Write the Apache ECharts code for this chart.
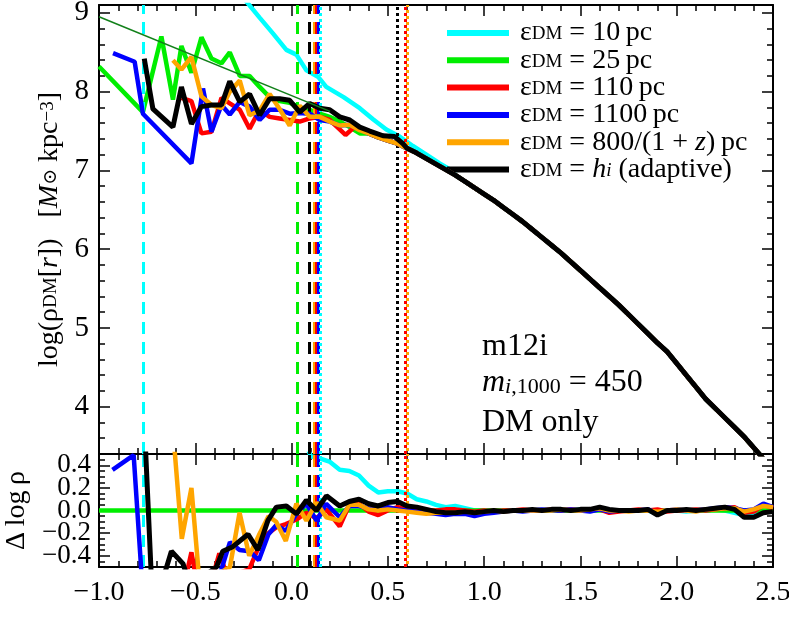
<!DOCTYPE html>
<html>
<head>
<meta charset="UTF-8">
<title>m12i - DM density profile</title>
<script src="https://cdn.jsdelivr.net/npm/echarts@6/dist/echarts.min.js"></script>
<style>
  html, body { margin: 0; padding: 0; background: #fff; }
  #main { width: 789px; height: 635px; }
</style>
</head>
<body>
<div id="main"></div>
<script>
// ---- values (x = log r [kpc]) ----
const seriesKeys = ['10pc', '25pc', '110pc', '1100pc', '800z', 'adaptive'];

// top panel, inner (noisy) part of each profile: [log r, log rho]
const top10pc = [[-0.30, 9.35], [-0.24, 9.16], [-0.166, 8.94], [-0.097, 8.74], [-0.027, 8.53], [0.025, 8.47], [0.077, 8.27],
  [0.137, 8.19], [0.18, 8.06], [0.27, 7.93], [0.354, 7.79], [0.423, 7.65], [0.492, 7.52], [0.561, 7.43], [0.63, 7.31],
  [0.70, 7.20], [0.769, 7.09], [0.838, 6.99]];
const top25pc = [[-1.0, 8.32], [-0.772, 7.74], [-0.676, 8.70], [-0.616, 7.90], [-0.572, 8.58], [-0.52, 8.24], [-0.468, 8.69],
  [-0.416, 8.42], [-0.364, 8.36], [-0.321, 8.50], [-0.269, 8.20], [-0.218, 8.20], [-0.166, 8.06], [-0.114, 7.93],
  [-0.062, 7.88], [-0.01, 7.86], [0.042, 7.80], [0.094, 7.77], [0.146, 7.72], [0.198, 7.68], [0.25, 7.62], [0.302, 7.55], [0.354, 7.47]];
const top110pc = [[-0.572, 7.92], [-0.52, 7.88], [-0.468, 7.47], [-0.416, 7.49], [-0.364, 7.92], [-0.321, 7.85], [-0.269, 7.77],
  [-0.218, 7.53], [-0.166, 7.77], [-0.114, 7.68], [-0.062, 7.66], [-0.01, 7.64], [0.042, 7.62], [0.094, 7.66], [0.146, 7.68],
  [0.198, 7.64], [0.25, 7.52], [0.28, 7.45], [0.33, 7.56], [0.37, 7.51]];
const top1100pc = [[-0.927, 8.49], [-0.815, 8.38], [-0.772, 7.72], [-0.52, 7.09], [-0.46, 8.04], [-0.416, 7.49], [-0.364, 7.83],
  [-0.321, 7.71], [-0.269, 7.87], [-0.218, 7.81], [-0.166, 7.64], [-0.114, 7.77], [-0.062, 7.77], [-0.01, 7.72], [0.042, 7.73],
  [0.094, 7.72], [0.146, 7.64], [0.198, 7.62], [0.25, 7.57], [0.302, 7.58], [0.354, 7.52]];
const top800z = [[-0.616, 8.40], [-0.572, 8.28], [-0.52, 8.44], [-0.468, 7.94], [-0.416, 7.83], [-0.364, 7.79], [-0.321, 8.00],
  [-0.269, 8.14], [-0.218, 7.70], [-0.166, 7.76], [-0.114, 7.97], [-0.062, 7.78], [-0.01, 7.57], [0.042, 7.82], [0.094, 7.68],
  [0.146, 7.68], [0.198, 7.62], [0.25, 7.57], [0.302, 7.58], [0.354, 7.51]];
const topAdaptive = [[-0.765, 8.42], [-0.72, 7.78], [-0.616, 7.55], [-0.572, 8.06], [-0.52, 7.59], [-0.468, 7.81], [-0.416, 7.83],
  [-0.364, 7.83], [-0.321, 8.13], [-0.269, 7.87], [-0.218, 7.97], [-0.166, 7.70], [-0.114, 7.91], [-0.062, 7.91], [-0.01, 7.89],
  [0.042, 7.74], [0.094, 7.85], [0.146, 7.79], [0.198, 7.77], [0.25, 7.68], [0.302, 7.64], [0.354, 7.55], [0.406, 7.50],
  [0.475, 7.44], [0.535, 7.43], [0.578, 7.34]];

// top panel, outer part where all runs agree
const rOuter = [0.40, 0.45, 0.50, 0.55, 0.60, 0.65, 0.70, 0.75, 0.80, 0.85, 0.90, 0.95, 1.00, 1.05, 1.10, 1.15, 1.20, 1.25,
  1.30, 1.35, 1.40, 1.45, 1.50, 1.55, 1.60, 1.65, 1.70, 1.75, 1.80, 1.85, 1.90, 1.95, 2.00, 2.05, 2.10, 2.15, 2.20, 2.25,
  2.30, 2.35, 2.40, 2.45];
const rhoOuter = [7.47, 7.42, 7.38, 7.34, 7.28, 7.22, 7.15, 7.08, 7.01, 6.94, 6.86, 6.78, 6.70, 6.62, 6.53, 6.44, 6.35, 6.25,
  6.15, 6.05, 5.95, 5.84, 5.73, 5.62, 5.51, 5.40, 5.29, 5.17, 5.05, 4.93, 4.81, 4.70, 4.55, 4.40, 4.25, 4.10, 3.98, 3.86,
  3.74, 3.62, 3.48, 3.34];

// thin reference slope in the top panel
const refSlope = [[-1.0, 8.95], [0.20, 7.75]];

// bottom panel, inner part: [log r, delta log rho]
const res10pcIn = [[0.06, 0.65], [0.10, 0.48], [0.15, 0.46], [0.20, 0.43]];
const res25pcIn = [[-1.0, 0.0], [2.5, 0.0]];
const res110pcIn = [[-0.57, -0.75], [-0.52, -0.37], [-0.47, -0.85], [-0.42, -0.65], [-0.375, -0.38], [-0.33, -0.6], [-0.27, -0.55],
  [-0.22, -0.52], [-0.17, -0.32], [-0.12, -0.2], [-0.08, -0.15], [-0.03, -0.12], [0.025, -0.08], [0.077, -0.02], [0.13, -0.07], [0.18, 0.01]];
const res1100pcIn = [[-0.93, 0.36], [-0.82, 0.49], [-0.77, -0.8], [-0.52, -1.0], [-0.47, -0.65], [-0.42, -0.9], [-0.37, -0.55],
  [-0.32, -0.28], [-0.27, -0.35], [-0.22, -0.36], [-0.17, -0.44], [-0.12, -0.21], [-0.08, -0.13], [-0.03, -0.18], [0.025, -0.03],
  [0.077, 0.06], [0.13, -0.09], [0.18, 0.06]];
const res800zIn = [[-0.62, 0.8], [-0.57, -0.25], [-0.52, 0.20], [-0.47, -0.8], [-0.42, -0.6], [-0.37, -0.55], [-0.32, -0.5],
  [-0.27, -0.02], [-0.22, -0.40], [-0.17, -0.22], [-0.12, -0.05], [-0.08, -0.10], [-0.03, -0.27], [0.025, 0.06], [0.077, -0.09],
  [0.13, 0.07], [0.18, -0.06]];
const resAdaptiveIn = [[-0.765, 0.8], [-0.72, -0.9], [-0.624, -0.36], [-0.564, -0.47], [-0.52, -0.7], [-0.47, -0.6], [-0.39, -0.5],
  [-0.357, -0.36], [-0.305, -0.32], [-0.226, -0.21], [-0.175, -0.35], [-0.123, -0.09], [-0.079, 0.03], [-0.027, 0.04],
  [0.025, -0.03], [0.077, 0.09], [0.129, 0.0], [0.181, 0.13]];

// bottom panel, outer part on a common grid
const resX = [0.25, 0.30, 0.35, 0.40, 0.45, 0.50, 0.55, 0.60, 0.65, 0.70, 0.75, 0.80, 0.85, 0.90, 0.95, 1.00, 1.05, 1.10,
  1.15, 1.20, 1.25, 1.30, 1.35, 1.40, 1.45, 1.50, 1.55, 1.60, 1.65, 1.70, 1.75, 1.80, 1.85, 1.90, 1.95, 2.00, 2.05, 2.10,
  2.15, 2.20, 2.25, 2.30, 2.35, 2.40, 2.45, 2.50];
const res10pc = [0.36, 0.35, 0.31, 0.22, 0.16, 0.17, 0.17, 0.15, 0.10, 0.08, 0.05, 0.03, 0.04, 0.02, 0.00, 0.00, -0.01, 0.00,
  0.00, 0.00, 0.00, 0.00, 0.00, 0.00, 0.00, 0.01, 0.00, 0.01, -0.01, 0.00, 0.00, 0.00, 0.00, -0.03, 0.00, 0.00, -0.01, 0.00,
  0.00, 0.01, 0.00, -0.02, -0.04, -0.03, 0.00, 0.00];
const res110pc = [-0.14, 0.05, 0.06, -0.01, -0.04, 0.00, 0.03, 0.02, 0.00, 0.00, 0.00, 0.01, 0.01, 0.00, -0.01, 0.00, -0.01, 0.00,
  0.00, 0.01, 0.00, 0.00, 0.01, 0.00, 0.01, 0.00, 0.00, 0.01, -0.02, -0.01, 0.00, 0.01, 0.00, 0.01, -0.01, 0.00, 0.00, 0.01,
  0.00, 0.01, 0.02, 0.03, -0.02, -0.01, 0.05, 0.02];
const res1100pc = [-0.06, 0.04, 0.04, 0.02, 0.01, 0.03, 0.01, 0.00, -0.01, -0.02, -0.03, -0.04, -0.03, -0.03, -0.05, -0.03, -0.02, -0.01,
  0.00, -0.01, 0.00, 0.01, 0.00, 0.00, 0.01, 0.00, -0.01, 0.01, -0.01, 0.00, 0.00, 0.00, 0.01, -0.02, 0.00, 0.01, 0.00, 0.00,
  0.01, 0.02, 0.03, 0.02, 0.00, 0.01, 0.06, 0.03];
const res800z = [-0.09, 0.05, 0.05, 0.01, 0.00, 0.01, 0.00, -0.01, -0.02, -0.03, -0.02, -0.02, -0.02, -0.01, -0.02, -0.01, 0.00, -0.01,
  0.00, 0.00, 0.00, 0.00, 0.00, 0.01, 0.00, 0.00, 0.01, 0.02, 0.00, 0.00, -0.01, 0.00, 0.00, -0.01, 0.00, 0.01, 0.00, -0.01,
  0.01, 0.01, 0.02, 0.02, -0.01, 0.01, 0.04, 0.03];
const resAdaptive = [0.04, 0.08, 0.10, 0.06, 0.04, 0.07, 0.08, 0.04, 0.03, 0.01, -0.01, -0.02, -0.02, -0.01, -0.02, -0.01, 0.00, -0.01,
  0.00, 0.00, 0.01, 0.00, 0.01, 0.01, 0.00, 0.01, 0.01, 0.03, 0.01, 0.00, 0.00, 0.00, 0.01, -0.04, 0.00, 0.00, 0.01, 0.00,
  0.01, 0.02, 0.03, 0.01, -0.06, -0.06, -0.02, -0.01];

// convergence radii shown as vertical lines
const dashedX = [-0.772, 0.028, 0.085, 0.116, 0.134, 0.144];
const dottedX = [0.155, 0.547, 0.592, 0.597];

// tick positions
const yTopTicks = [4, 5, 6, 7, 8, 9];
const yBotTicks = [-0.4, -0.2, 0.0, 0.2, 0.4];

// ---- styling ----
const serif = "'Liberation Serif', 'DejaVu Serif', 'Times New Roman', serif";
const lineColors = { '10pc': '#00ffff', '25pc': '#00ee00', '110pc': '#ff0000', '1100pc': '#0000ff', '800z': '#ffa500', 'adaptive': '#000000' };
const dashedColors = ['#00ffff', '#00ee00', '#000000', '#ffa500', '#ff0000', '#0000ff'];
const dottedColors = ['#00ffff', '#000000', '#ff0000', '#ffa500'];

const topInner = { '10pc': top10pc, '25pc': top25pc, '110pc': top110pc, '1100pc': top1100pc, '800z': top800z, 'adaptive': topAdaptive };
const botInner = { '10pc': res10pcIn, '25pc': res25pcIn, '110pc': res110pcIn, '1100pc': res1100pcIn, '800z': res800zIn, 'adaptive': resAdaptiveIn };
const botOuter = { '10pc': res10pc, '110pc': res110pc, '1100pc': res1100pc, '800z': res800z, 'adaptive': resAdaptive };

function withOuter(inner, xs, ys) {
  const out = inner.slice();
  if (!ys) return out;
  const last = inner[inner.length - 1][0];
  xs.forEach((x, i) => { if (x > last + 1e-9) out.push([x, ys[i]]); });
  return out;
}

function steps(from, to, step) {
  const v = [];
  for (let k = 0; from + k * step <= to + 1e-9; k++) v.push(Number((from + k * step).toFixed(3)));
  return v;
}

const fmt1 = v => (v < 0 ? '\u2212' : '') + Math.abs(v).toFixed(1);

const frameLine = { show: true, onZero: false, lineStyle: { color: '#000', width: 2 } };
const tickStyle = { color: '#000', width: 1.5 };

function xAxisFor(grid, pos, withLabels) {
  return {
    type: 'value', gridIndex: grid, position: pos, min: -1.0, max: 2.5, interval: 0.5,
    axisLine: frameLine,
    axisTick: { show: true, inside: true, length: 11, lineStyle: tickStyle },
    minorTick: { show: true, splitNumber: 5, length: 6, lineStyle: tickStyle },
    splitLine: { show: false },
    axisLabel: withLabels ? {
      show: true, margin: 12, fontFamily: serif, fontSize: 28, color: '#000',
      showMinLabel: true, showMaxLabel: true, formatter: fmt1
    } : { show: false }
  };
}

// majorLabels / minorLabels: label options for the left major-tick and left minor-tick axes
function yAxesFor(grid, min, max, major, minor, majorLabels, minorLabels, nameOpts) {
  const base = { type: 'value', gridIndex: grid, min: min, max: max, splitLine: { show: false } };
  const majorAxis = pos => Object.assign({}, base, {
    position: pos,
    axisLine: frameLine,
    axisTick: { show: true, inside: true, length: 11, lineStyle: tickStyle, customValues: major },
    axisLabel: (pos === 'left' && majorLabels) ? majorLabels : { show: false }
  }, (pos === 'left' && nameOpts) ? nameOpts : {});
  const minorAxis = pos => Object.assign({}, base, {
    position: pos,
    axisLine: { show: false, onZero: false },
    axisTick: { show: true, inside: true, length: 6, lineStyle: tickStyle, customValues: minor },
    axisLabel: (pos === 'left' && minorLabels) ? minorLabels : { show: false }
  });
  return [majorAxis('left'), minorAxis('left'), majorAxis('right'), minorAxis('right')];
}

const subRich = {
  t: { fontFamily: serif, fontSize: 28, lineHeight: 22, color: '#000' },
  i: { fontFamily: serif, fontSize: 28, lineHeight: 22, fontStyle: 'italic', color: '#000' },
  s: { fontFamily: serif, fontSize: 19, lineHeight: 8, verticalAlign: 'bottom', color: '#000' },
  si: { fontFamily: serif, fontSize: 19, lineHeight: 8, verticalAlign: 'bottom', fontStyle: 'italic', color: '#000' },
  sup: { fontFamily: serif, fontSize: 19, lineHeight: 8, verticalAlign: 'top', color: '#000' }
};

const yTopAxes = yAxesFor(0, 3.4, 9.1, yTopTicks, steps(3.4, 9.0, 0.2),
  { show: true, customValues: yTopTicks, margin: 10, fontFamily: serif, fontSize: 29, color: '#000', formatter: v => String(v) },
  null,
  {
    name: '{t|log(\u03c1}{s|DM}{t|[}{i|r}{t|])   [}{i|M}{s|\u2299}{t| kpc}{sup|\u22123}{t|]}',
    nameLocation: 'middle', nameRotate: 90, nameGap: 38, nameMoveOverlap: false,
    nameTextStyle: { fontFamily: serif, fontSize: 28, color: '#000', rich: subRich }
  });

// bottom panel labels are split over two axes so that the tight 0.2 spacing is not thinned out
const botLabelStyle = { show: true, margin: 8, fontFamily: serif, fontSize: 27, color: '#000', formatter: fmt1 };
const yBotAxes = yAxesFor(1, -0.5, 0.5, yBotTicks, steps(-0.45, 0.45, 0.05),
  Object.assign({ customValues: yBotTicks.filter((v, i) => i % 2 === 0) }, botLabelStyle),
  Object.assign({ customValues: yBotTicks.filter((v, i) => i % 2 === 1) }, botLabelStyle),
  {
    name: '\u0394\u2009log\u2009\u03c1',
    nameLocation: 'middle', nameRotate: 90, nameGap: 68, nameMoveOverlap: false,
    nameTextStyle: { fontFamily: serif, fontSize: 28, color: '#000' }
  });

const legendText = {
  '10pc': '{e|\u03b5}{s|DM}{t| = 10\u2009pc}',
  '25pc': '{e|\u03b5}{s|DM}{t| = 25\u2009pc}',
  '110pc': '{e|\u03b5}{s|DM}{t| = 110\u2009pc}',
  '1100pc': '{e|\u03b5}{s|DM}{t| = 1100\u2009pc}',
  '800z': '{e|\u03b5}{s|DM}{t| = 800/(1 + }{i|z}{t|)\u2009pc}',
  'adaptive': '{e|\u03b5}{s|DM}{t| = }{i|h}{si|i}{t| (adaptive)}'
};

function vlineSeries(xi, yi) {
  const items = dashedX.map((x, k) => ({ xAxis: x, lineStyle: { color: dashedColors[k], width: 3, type: [12, 8] } }))
    .concat(dottedX.map((x, k) => ({ xAxis: x, lineStyle: { color: dottedColors[k], width: 3, type: [3, 3], dashOffset: k === 3 ? 3 : 0 } })));
  return {
    type: 'line', name: 'vlines', data: [], xAxisIndex: xi, yAxisIndex: yi, z: 1, silent: true,
    markLine: { silent: true, symbol: ['none', 'none'], label: { show: false }, emphasis: { disabled: true }, animation: false, data: items }
  };
}

const series = [vlineSeries(0, 0), vlineSeries(2, 4)];
seriesKeys.forEach((key, k) => {
  const c = lineColors[key];
  series.push({
    type: 'line', name: key, xAxisIndex: 0, yAxisIndex: 0, z: 3 + k, silent: true,
    data: withOuter(topInner[key], rOuter, rhoOuter),
    symbol: 'none', lineStyle: { color: c, width: key === 'adaptive' ? 5 : 4.5 }, itemStyle: { color: c }
  });
  series.push({
    type: 'line', name: key, xAxisIndex: 2, yAxisIndex: 4, z: 3 + k, silent: true,
    data: withOuter(botInner[key], resX, botOuter[key]),
    symbol: 'none', lineStyle: { color: c, width: key === 'adaptive' ? 5 : 4.5 }, itemStyle: { color: c }
  });
});
series.push({
  type: 'line', name: 'ref', xAxisIndex: 0, yAxisIndex: 0, z: 20, silent: true,
  data: refSlope, symbol: 'none', lineStyle: { color: '#12801a', width: 1.5 }
});

const chart = echarts.init(document.getElementById('main'), null, { renderer: 'canvas' });
chart.setOption({
  animation: false,
  backgroundColor: '#fff',
  grid: [
    { left: 99, top: 5, width: 674, height: 449, containLabel: false, outerBoundsMode: 'none' },
    { left: 99, top: 454, width: 674, height: 113, containLabel: false, outerBoundsMode: 'none' }
  ],
  xAxis: [xAxisFor(0, 'bottom', false), xAxisFor(0, 'top', false), xAxisFor(1, 'bottom', true), xAxisFor(1, 'top', false)],
  yAxis: yTopAxes.concat(yBotAxes),
  legend: {
    data: seriesKeys, orient: 'vertical', left: 447, top: 19, padding: 0,
    icon: 'rect', itemWidth: 62, itemHeight: 6, itemGap: -0.7, selectedMode: false,
    formatter: name => legendText[name],
    textStyle: {
      fontFamily: serif, fontSize: 28, lineHeight: 22, color: '#000',
      rich: Object.assign({ e: { fontFamily: serif, fontSize: 28, lineHeight: 22, color: '#000', padding: [0, 0, 0, 6] } }, subRich)
    }
  },
  graphic: [
    { type: 'text', left: 482, top: 331, silent: true, style: { text: 'm12i', font: '32px ' + serif, fill: '#000' } },
    { type: 'text', left: 482, top: 367, silent: true, style: {
      text: '{i|m}{si|i}{s|,1000}{t| = 450}',
      rich: {
        t: { fontFamily: serif, fontSize: 32, lineHeight: 30, fill: '#000' },
        i: { fontFamily: serif, fontSize: 32, lineHeight: 30, fontStyle: 'italic', fill: '#000' },
        s: { fontFamily: serif, fontSize: 22, lineHeight: 12, verticalAlign: 'bottom', fill: '#000' },
        si: { fontFamily: serif, fontSize: 22, lineHeight: 12, verticalAlign: 'bottom', fontStyle: 'italic', fill: '#000' }
      }
    } },
    { type: 'text', left: 482, top: 407, silent: true, style: { text: 'DM only', font: '32px ' + serif, fill: '#000' } }
  ],
  series: series
});
</script>
</body>
</html>
